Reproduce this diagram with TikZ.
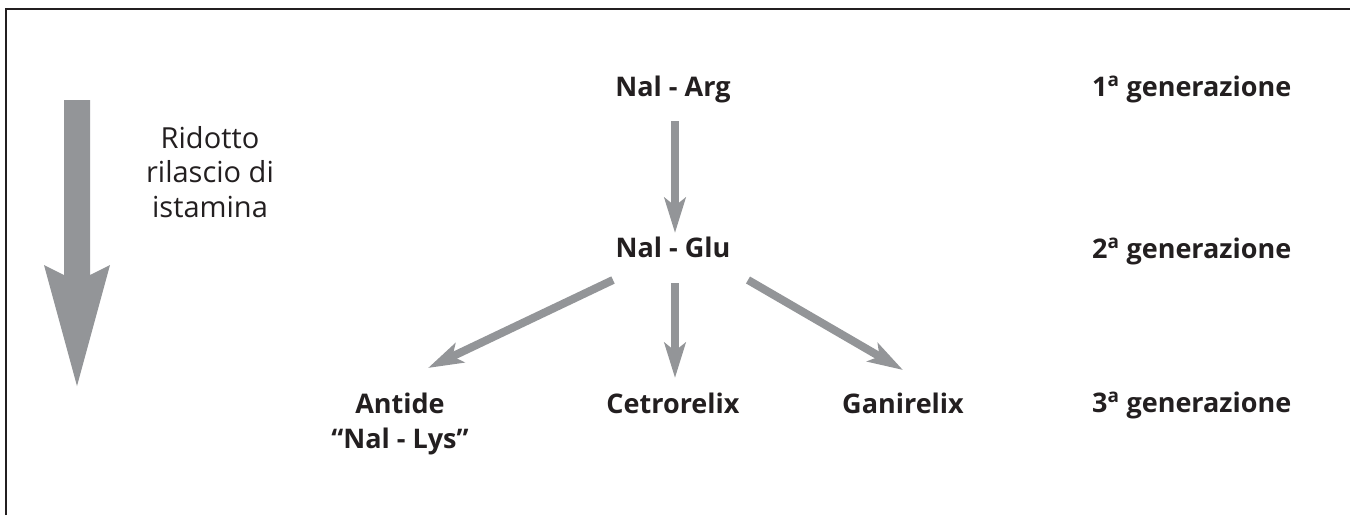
\documentclass[tikz,border=0pt]{standalone}
\usepackage{fontspec}
\setmainfont{Open Sans}
\usetikzlibrary{arrows.meta}
\definecolor{arrowgray}{HTML}{939598}
\definecolor{ink}{HTML}{231F20}
\begin{document}
\begin{tikzpicture}[x=1pt,y=-1pt,
  lbl/.style={font=\fontsize{27}{35}\selectfont\bfseries, text=ink, anchor=base, inner sep=0pt},
  gen/.style={lbl, anchor=base west},
  note/.style={font=\fontsize{29}{34.5}\selectfont, text=ink, align=center, anchor=base, inner sep=0pt},
  conn/.style={draw=arrowgray, line width=8pt, -{Stealth[length=35pt, width=21pt, inset=8pt]}},
  bigarrow/.style={fill=arrowgray, draw=none},
  frame/.style={draw=ink, line width=1.6pt}
]
\useasboundingbox (0,0) rectangle (1350,515);
\fill[white] (0,0) rectangle (1350,515);
\draw[frame] (6,515) -- (6,9) -- (1350,9);

% big arrow
\path[bigarrow] (64,100) -- (90,100) -- (90,275) -- (110,265) -- (77,386) -- (44,265) -- (64,275) -- cycle;
% base anchor of a multi-line node is the last line's baseline
\node[note] (ridotto) at (210,217) {Ridotto\\rilascio di\\istamina};

% nodes
\node[lbl] (arg) at (673,96) {Nal - Arg};
\node[lbl] (glu) at (673,257) {Nal - Glu};
\node[lbl, align=center] (antide) at (400,448) {Antide\\“Nal - Lys”};
\node[lbl] (cetro) at (673,413) {Cetrorelix};
\node[lbl] (gani) at (903,413) {Ganirelix};

\node[gen] (g1) at (1092,96) {1\textsuperscript{a} generazione};
\node[gen] (g2) at (1092,258) {2\textsuperscript{a} generazione};
\node[gen] (g3) at (1092,412) {3\textsuperscript{a} generazione};

% connectors
\draw[conn] ([shift={(2,25)}]arg.base) -- ([shift={(2,-24)}]glu.base);
\draw[conn] ([shift={(-60,23)}]glu.base) -- ([shift={(28,-80)}]antide.base);
\draw[conn] ([shift={(2,26)}]glu.base) -- ([shift={(2,-35)}]cetro.base);
\draw[conn] ([shift={(75,23)}]glu.base) -- ([shift={(0,-43)}]gani.base);
\end{tikzpicture}
\end{document}
